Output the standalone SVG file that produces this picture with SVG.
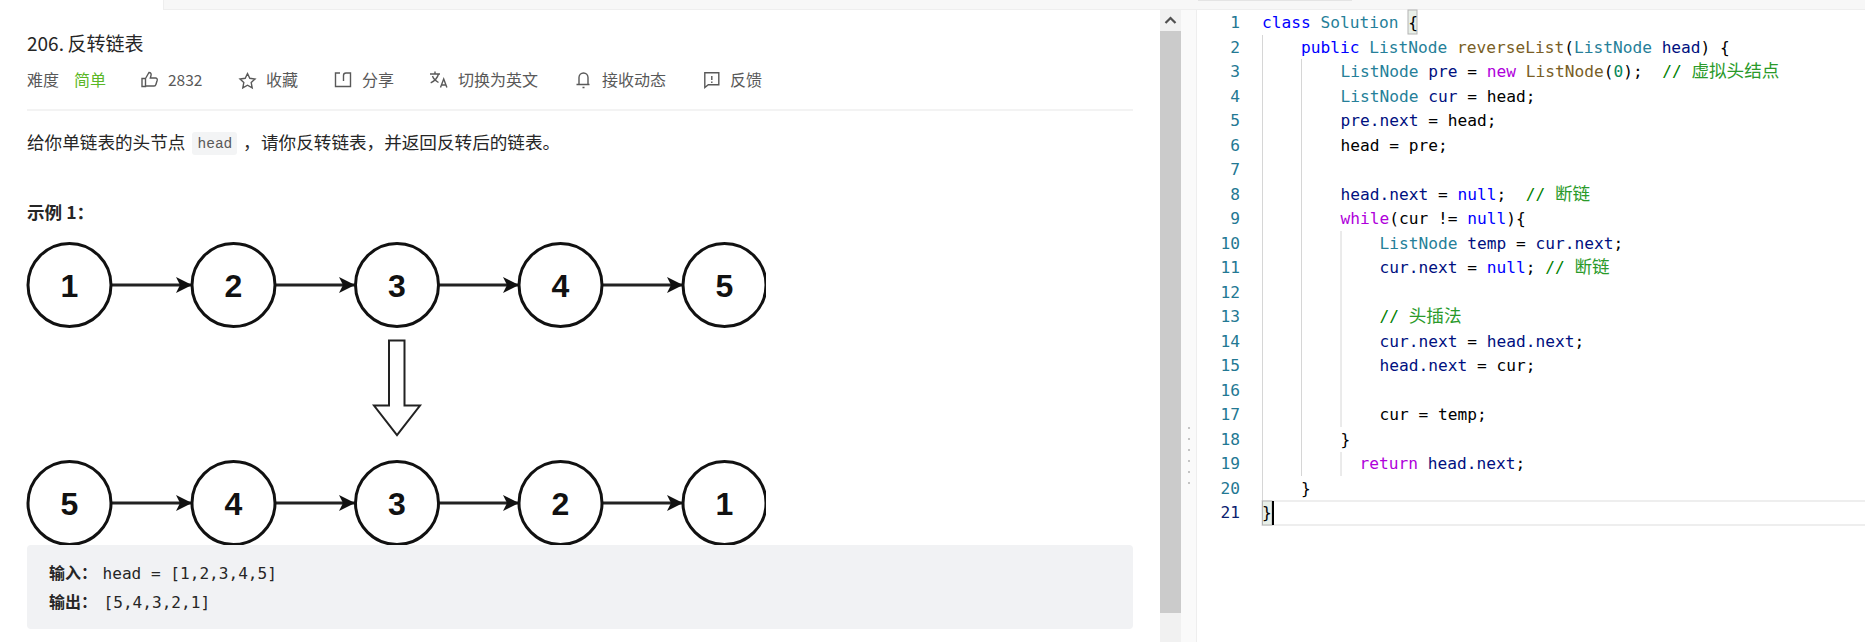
<svg xmlns="http://www.w3.org/2000/svg" width="1865" height="642" viewBox="0 0 1865 642">
<style>
.ui{font-family:"Noto Sans CJK SC","Liberation Sans",sans-serif}
.title{font-size:19px;fill:#262626}
.meta{font-size:16px;fill:#595959}
.body{font-size:17.6px;fill:#262626}
.ic{fill:none;stroke:#595959;stroke-width:1.4}
.nc{fill:#fff;stroke:#111;stroke-width:3}
.nt{font-family:"Liberation Sans",Arial,sans-serif;font-weight:700;font-size:32px;text-anchor:middle;fill:#111}
.ed{stroke:#222;stroke-width:3;fill:none;marker-end:url(#ah)}
.code{font-family:"DejaVu Sans Mono","Noto Sans CJK SC",monospace;font-size:16.2px;fill:#000;white-space:pre}
.ln{font-family:"DejaVu Sans Mono",monospace;font-size:16.2px;fill:#237893;text-anchor:end}
.k{fill:#0000ff}.t{fill:#267f99}.f{fill:#795e26}.v{fill:#001080}.p{fill:#af00db}.c{fill:#008000}.n{fill:#098658}
.cj{font-family:"Noto Sans CJK SC",sans-serif;font-size:17.6px;fill:#2a9a2a}
.g{stroke:#d6d6d6;stroke-width:1}
.mono{font-family:"DejaVu Sans Mono",monospace;font-size:16.1px;fill:#262626;white-space:pre}
</style>
<defs>
<marker id="ah" markerUnits="userSpaceOnUse" markerWidth="17" markerHeight="17" refX="16" refY="8" orient="auto">
<path d="M0 0L16 8L0 16L4 8Z" fill="#111"/>
</marker>
<clipPath id="picture"><rect x="0" y="230" width="766" height="315"/></clipPath>
</defs>
<rect width="1865" height="642" fill="#fff"/>
<g id="chrome">
<rect x="163" y="0" width="1702" height="9" fill="#f7f7f7"/>
<rect x="163" y="9" width="1702" height="1" fill="#eeeeee"/>
<rect x="163" y="0" width="1" height="10" fill="#eeeeee"/>
<rect x="1198" y="0" width="154" height="1" fill="#e4e4e4"/>
<rect x="1160" y="10" width="21" height="632" fill="#f1f1f1"/>
<rect x="1160" y="31" width="21" height="582" fill="#cbcbcb"/>
<path d="M1165.500 23L1170.500 18L1175.500 23" fill="none" stroke="#505050" stroke-width="2.200"/>
<rect x="1181" y="10" width="15" height="632" fill="#fafafa"/>
<rect x="1196" y="10" width="1" height="632" fill="#eeeeee"/>
<g fill="#c4c4c4"><rect x="1188" y="427" width="2" height="2"/><rect x="1188" y="438" width="2" height="2"/><rect x="1188" y="449" width="2" height="2"/><rect x="1188" y="460" width="2" height="2"/><rect x="1188" y="471" width="2" height="2"/><rect x="1188" y="482" width="2" height="2"/></g>
</g>
<g id="problem-header" class="ui">
<text class="title" x="27" y="50.500">206.</text>
<text class="title" x="67.500" y="50.500">反转链表</text>
<text class="meta" x="27" y="86">难度</text>
<text class="meta" x="74" y="86" style="fill:#5ab726">简单</text>
<path class="ic" d="M142 78.500h3.500v8h-3.500zM145.500 78.500l3.500-6c1.800 0 2.500 1.300 2 3l-.7 2.500h5.200c1.300 0 2 1 1.700 2.200l-1.300 4.300c-.2.700-.8 1.500-1.700 1.500h-8.700"/>
<text class="meta" x="168" y="86" style="font-size:15.500px">2832</text>
<path class="ic" d="M247.500 73.500l2.300 4.800 5.200.7-3.800 3.600 1 5.200-4.700-2.600-4.700 2.600 1-5.200-3.800-3.600 5.200-.7z"/>
<text class="meta" x="266" y="86">收藏</text>
<path class="ic" d="M340 73h-4.500v13.500h15v-13.500h-1.500M343.500 81v-5.500c0-1.500 1-2.500 2.500-2.500h3"/>
<text class="meta" x="362" y="86">分享</text>
<path class="ic" d="M430 74h10M435 71.500v2.500M438.500 74c-1 4-4 7-7.800 8.800M432.500 76c1 3 3.500 5 6 6.500M440.500 87.500l3.200-8.500 3.200 8.500M441.700 85h4"/>
<text class="meta" x="458" y="86">切换为英文</text>
<path class="ic" d="M579 84.500v-7c0-2.500 2-4.500 4.500-4.500s4.500 2 4.500 4.500v7h1.500h-13zM582.500 87.500h2"/>
<text class="meta" x="602" y="86">接收动态</text>
<path class="ic" d="M704.800 72.800h14v12h-10.500l-3.500 2.800zM711.800 76v4M711.800 81.500v1.500"/>
<text class="meta" x="730" y="86">反馈</text>
<rect x="27" y="109.500" width="1106" height="1" fill="#e8e8e8"/>
</g>
<g id="problem-text" class="ui">
<text class="body" x="27" y="149">给你单链表的头节点</text>
<rect x="192" y="132" width="45" height="23" rx="3" fill="#f3f4f5"/>
<text x="197.500" y="148" style="font-family:'Liberation Mono',monospace;font-size:14.500px;fill:#595959">head</text>
<text class="body" x="243" y="149">，</text>
<text class="body" x="261" y="149">请你反转链表，并返回反转后的链表。</text>
<text class="body" x="27" y="219" style="font-weight:700;font-size:17.600px">示例 1：</text>
</g>
<g id="connectors">
<path class="ed" d="M111 285H192"/><path class="ed" d="M275 285H355"/><path class="ed" d="M438 285H519"/><path class="ed" d="M602 285H683"/>
<path class="ed" d="M111 503H192"/><path class="ed" d="M275 503H355"/><path class="ed" d="M438 503H519"/><path class="ed" d="M602 503H683"/>
<path id="transform-arrow" d="M389 340.500H404.500V405.500H420L397 435L374 405.500H389Z" fill="#fff" stroke="#222" stroke-width="2"/>
</g>
<g clip-path="url(#picture)">
<g id="n1"><circle class="nc" cx="69.500" cy="285" r="41.500"/><text class="nt" x="69.500" y="296.500">1</text></g>
<g id="n2"><circle class="nc" cx="233.500" cy="285" r="41.500"/><text class="nt" x="233.500" y="296.500">2</text></g>
<g id="n3"><circle class="nc" cx="397" cy="285" r="41.500"/><text class="nt" x="397" y="296.500">3</text></g>
<g id="n4"><circle class="nc" cx="560.500" cy="285" r="41.500"/><text class="nt" x="560.500" y="296.500">4</text></g>
<g id="n5"><circle class="nc" cx="724.500" cy="285" r="41.500"/><text class="nt" x="724.500" y="296.500">5</text></g>
<g id="m5"><circle class="nc" cx="69.500" cy="503" r="41.500"/><text class="nt" x="69.500" y="514.500">5</text></g>
<g id="m4"><circle class="nc" cx="233.500" cy="503" r="41.500"/><text class="nt" x="233.500" y="514.500">4</text></g>
<g id="m3"><circle class="nc" cx="397" cy="503" r="41.500"/><text class="nt" x="397" y="514.500">3</text></g>
<g id="m2"><circle class="nc" cx="560.500" cy="503" r="41.500"/><text class="nt" x="560.500" y="514.500">2</text></g>
<g id="m1"><circle class="nc" cx="724.500" cy="503" r="41.500"/><text class="nt" x="724.500" y="514.500">1</text></g>
</g>
<g id="example-box">
<rect x="27" y="545" width="1106" height="84" rx="4" fill="#f1f2f4"/>
<text class="ui" x="49" y="579" style="font-size:16px;font-weight:700;fill:#262626">输入：</text>
<text class="mono" x="102.500" y="579">head = [1,2,3,4,5]</text>
<text class="ui" x="49" y="608" style="font-size:16px;font-weight:700;fill:#262626">输出：</text>
<text class="mono" x="103.500" y="608">[5,4,3,2,1]</text>
</g>
<g id="editor">
<rect x="1262" y="501" width="620" height="24" fill="#fff" stroke="#eeeeee" stroke-width="2"/>
<g id="guides">
<path class="g" d="M1262.500 35V501M1301.500 59V476M1341 231V427M1341 452V476"/>
</g>
<rect x="1408" y="10" width="9" height="24" fill="#e8efe8" stroke="#b4b4b4"/>
<rect x="1262.500" y="501" width="9.500" height="24" fill="#e8efe8" stroke="#b4b4b4"/>
<rect x="1272" y="501" width="2" height="24" fill="#000"/>
<g id="line-numbers">
<text class="ln" x="1240" y="28">1</text><text class="ln" x="1240" y="52.500">2</text><text class="ln" x="1240" y="77">3</text><text class="ln" x="1240" y="101.500">4</text><text class="ln" x="1240" y="126">5</text><text class="ln" x="1240" y="150.500">6</text><text class="ln" x="1240" y="175">7</text><text class="ln" x="1240" y="199.500">8</text><text class="ln" x="1240" y="224">9</text><text class="ln" x="1240" y="248.500">10</text><text class="ln" x="1240" y="273">11</text><text class="ln" x="1240" y="297.500">12</text><text class="ln" x="1240" y="322">13</text><text class="ln" x="1240" y="346.500">14</text><text class="ln" x="1240" y="371">15</text><text class="ln" x="1240" y="395.500">16</text><text class="ln" x="1240" y="420">17</text><text class="ln" x="1240" y="444.500">18</text><text class="ln" x="1240" y="469">19</text><text class="ln" x="1240" y="493.500">20</text><text class="ln" x="1240" y="518" style="fill:#0b216f">21</text>
</g>
<g id="code" xml:space="preserve">
<text class="code" x="1262" y="28"><tspan class="k">class</tspan> <tspan class="t">Solution</tspan> {</text>
<text class="code" x="1301" y="52.500"><tspan class="k">public</tspan> <tspan class="t">ListNode</tspan> <tspan class="f">reverseList</tspan>(<tspan class="t">ListNode</tspan> <tspan class="v">head</tspan>) {</text>
<text class="code" x="1340.500" y="77"><tspan class="t">ListNode</tspan> <tspan class="v">pre</tspan> = <tspan class="p">new</tspan> <tspan class="f">ListNode</tspan>(<tspan class="n">0</tspan>);  <tspan class="c">// </tspan><tspan class="cj">虚拟头结点</tspan></text>
<text class="code" x="1340.500" y="101.500"><tspan class="t">ListNode</tspan> <tspan class="v">cur</tspan> = head;</text>
<text class="code" x="1340.500" y="126"><tspan class="v">pre.next</tspan> = head;</text>
<text class="code" x="1340.500" y="150.500">head = pre;</text>
<text class="code" x="1340.500" y="199.500"><tspan class="v">head.next</tspan> = <tspan class="k">null</tspan>;  <tspan class="c">// </tspan><tspan class="cj">断链</tspan></text>
<text class="code" x="1340.500" y="224"><tspan class="p">while</tspan>(cur != <tspan class="k">null</tspan>){</text>
<text class="code" x="1379.500" y="248.500"><tspan class="t">ListNode</tspan> <tspan class="v">temp</tspan> = <tspan class="v">cur.next</tspan>;</text>
<text class="code" x="1379.500" y="273"><tspan class="v">cur.next</tspan> = <tspan class="k">null</tspan>; <tspan class="c">// </tspan><tspan class="cj">断链</tspan></text>
<text class="code" x="1379.500" y="322"><tspan class="c">// </tspan><tspan class="cj">头插法</tspan></text>
<text class="code" x="1379.500" y="346.500"><tspan class="v">cur.next</tspan> = <tspan class="v">head.next</tspan>;</text>
<text class="code" x="1379.500" y="371"><tspan class="v">head.next</tspan> = cur;</text>
<text class="code" x="1379.500" y="420">cur = temp;</text>
<text class="code" x="1340.500" y="444.500">}</text>
<text class="code" x="1359.500" y="469"><tspan class="p">return</tspan> <tspan class="v">head.next</tspan>;</text>
<text class="code" x="1301" y="493.500">}</text>
<text class="code" x="1262" y="518">}</text>
</g>
</g>
</svg>
